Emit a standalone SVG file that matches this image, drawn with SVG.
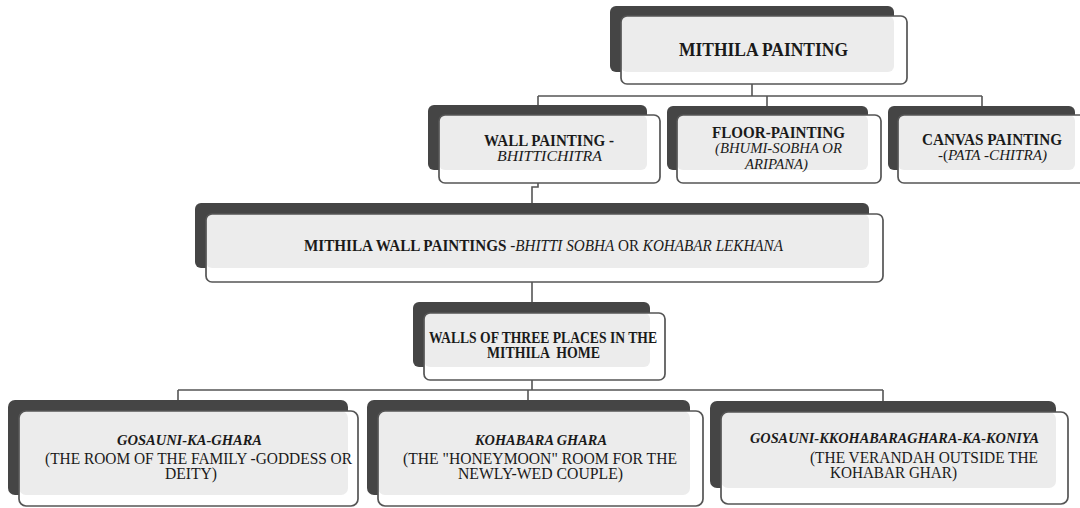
<svg xmlns="http://www.w3.org/2000/svg" width="1080" height="508" viewBox="0 0 1080 508">
<style>
.bg{fill:#454545}
.fw{fill:#ffffff}
.lt{fill:#ececec}
.fs{fill:none;stroke:#555555;stroke-width:1.7}
.cn{fill:none;stroke:#555555;stroke-width:1.6}
text{font-family:"Liberation Serif","Times New Roman",serif;fill:#1a1a1a}
.b{font-weight:bold;font-size:17px}
.i{font-style:italic;font-size:15.5px}
.r{font-size:16.5px}
.bi{font-weight:bold;font-style:italic;font-size:14.5px}
</style>
<rect width="1080" height="508" fill="#ffffff"/>
<g id="connectors">
<path class="cn" d="M752,84 V96 M538,96 H982 M538,96 V105 M767,96 V106 M982,96 V106"/>
<path class="cn" d="M538,183 V187 H532 V203"/>
<path class="cn" d="M532,282 V302"/>
<path class="cn" d="M532,380 V390 M178,390 H883 M178,390 V400 M528,390 V400 M883,390 V401"/>
</g>
<g id="n1">
<rect class="bg" x="610" y="6" width="284" height="66" rx="6"/>
<rect class="fw" x="621" y="16" width="286" height="68" rx="6"/>
<rect class="lt" x="621" y="16" width="273" height="56" rx="6"/>
<rect class="fs" x="621" y="16" width="286" height="68" rx="6"/>
<text class="b" x="679" y="56" textLength="169" lengthAdjust="spacingAndGlyphs" style="font-size:18.5px">MITHILA PAINTING</text>
</g>
<g id="n2">
<rect class="bg" x="428" y="105" width="219" height="65" rx="6"/>
<rect class="fw" x="439" y="115" width="221" height="68" rx="6"/>
<rect class="lt" x="439" y="115" width="208" height="55" rx="6"/>
<rect class="fs" x="439" y="115" width="221" height="68" rx="6"/>
<text class="b" x="484" y="146" textLength="130" lengthAdjust="spacingAndGlyphs">WALL PAINTING -</text>
<text class="i" x="497" y="161" textLength="105" lengthAdjust="spacingAndGlyphs">BHITTICHITRA</text>
</g>
<g id="n3">
<rect class="bg" x="667" y="106" width="201" height="64" rx="6"/>
<rect class="fw" x="677" y="115" width="204" height="68" rx="6"/>
<rect class="lt" x="677" y="115" width="191" height="55" rx="6"/>
<rect class="fs" x="677" y="115" width="204" height="68" rx="6"/>
<text class="b" x="712" y="138" textLength="133" lengthAdjust="spacingAndGlyphs">FLOOR-PAINTING</text>
<text class="i" x="715" y="153" textLength="127" lengthAdjust="spacingAndGlyphs">(BHUMI-SOBHA OR</text>
<text class="i" x="745" y="169" textLength="63" lengthAdjust="spacingAndGlyphs">ARIPANA)</text>
</g>
<g id="n4">
<rect class="bg" x="888" y="106" width="187" height="64" rx="6"/>
<rect class="fw" x="898" y="115" width="192" height="68" rx="6"/>
<rect class="lt" x="898" y="115" width="177" height="55" rx="6"/>
<rect class="fs" x="898" y="115" width="192" height="68" rx="6"/>
<text class="b" x="922" y="145" textLength="140" lengthAdjust="spacingAndGlyphs">CANVAS PAINTING</text>
<text class="i" x="938" y="160" textLength="109" lengthAdjust="spacingAndGlyphs"><tspan style="font-style:normal">-(</tspan>PATA -CHITRA)</text>
</g>
<g id="n5">
<rect class="bg" x="195" y="203" width="674" height="65" rx="6"/>
<rect class="fw" x="206" y="214" width="677" height="68" rx="6"/>
<rect class="lt" x="206" y="214" width="663" height="54" rx="6"/>
<rect class="fs" x="206" y="214" width="677" height="68" rx="6"/>
<text class="r" x="304" y="251" textLength="479" lengthAdjust="spacingAndGlyphs" style="font-size:17px"><tspan style="font-weight:bold">MITHILA WALL PAINTINGS </tspan><tspan style="font-style:italic">-BHITTI SOBHA</tspan> OR <tspan style="font-style:italic">KOHABAR LEKHANA</tspan></text>
</g>
<g id="n6">
<rect class="bg" x="413" y="302" width="237" height="65" rx="6"/>
<rect class="fw" x="424" y="313" width="241" height="67" rx="6"/>
<rect class="lt" x="424" y="313" width="226" height="54" rx="6"/>
<rect class="fs" x="424" y="313" width="241" height="67" rx="6"/>
<text class="b" x="429" y="343" textLength="228" lengthAdjust="spacingAndGlyphs">WALLS OF THREE PLACES IN THE</text>
<text class="b" x="487" y="358" textLength="113" lengthAdjust="spacingAndGlyphs" xml:space="preserve">MITHILA  HOME</text>
</g>
<g id="n7">
<rect class="bg" x="8" y="400" width="340" height="95" rx="7"/>
<rect class="fw" x="19" y="411" width="339" height="95" rx="7"/>
<rect class="lt" x="19" y="411" width="329" height="84" rx="7"/>
<rect class="fs" x="19" y="411" width="339" height="95" rx="7"/>
<text class="bi" x="117" y="445" textLength="145" lengthAdjust="spacingAndGlyphs">GOSAUNI-KA-GHARA</text>
<text class="r" x="45" y="464" textLength="307" lengthAdjust="spacingAndGlyphs">(THE ROOM OF THE FAMILY -GODDESS OR</text>
<text class="r" x="165" y="479" textLength="52" lengthAdjust="spacingAndGlyphs">DEITY)</text>
</g>
<g id="n8">
<rect class="bg" x="367" y="400" width="323" height="95" rx="7"/>
<rect class="fw" x="378" y="411" width="325" height="95" rx="7"/>
<rect class="lt" x="378" y="411" width="312" height="84" rx="7"/>
<rect class="fs" x="378" y="411" width="325" height="95" rx="7"/>
<text class="bi" x="475" y="445" textLength="132" lengthAdjust="spacingAndGlyphs">KOHABARA GHARA</text>
<text class="r" x="403" y="464" textLength="274" lengthAdjust="spacingAndGlyphs">(THE "HONEYMOON" ROOM FOR THE</text>
<text class="r" x="458" y="479" textLength="165" lengthAdjust="spacingAndGlyphs">NEWLY-WED COUPLE)</text>
</g>
<g id="n9">
<rect class="bg" x="710" y="401" width="346" height="87" rx="7"/>
<rect class="fw" x="721" y="412" width="347" height="92" rx="7"/>
<rect class="lt" x="721" y="412" width="335" height="76" rx="7"/>
<rect class="fs" x="721" y="412" width="347" height="92" rx="7"/>
<text class="bi" x="750" y="443" textLength="289" lengthAdjust="spacingAndGlyphs">GOSAUNI-KKOHABARAGHARA-KA-KONIYA</text>
<text class="r" x="810" y="463" textLength="228" lengthAdjust="spacingAndGlyphs">(THE VERANDAH OUTSIDE THE</text>
<text class="r" x="830" y="478" textLength="127" lengthAdjust="spacingAndGlyphs">KOHABAR GHAR)</text>
</g>
</svg>
